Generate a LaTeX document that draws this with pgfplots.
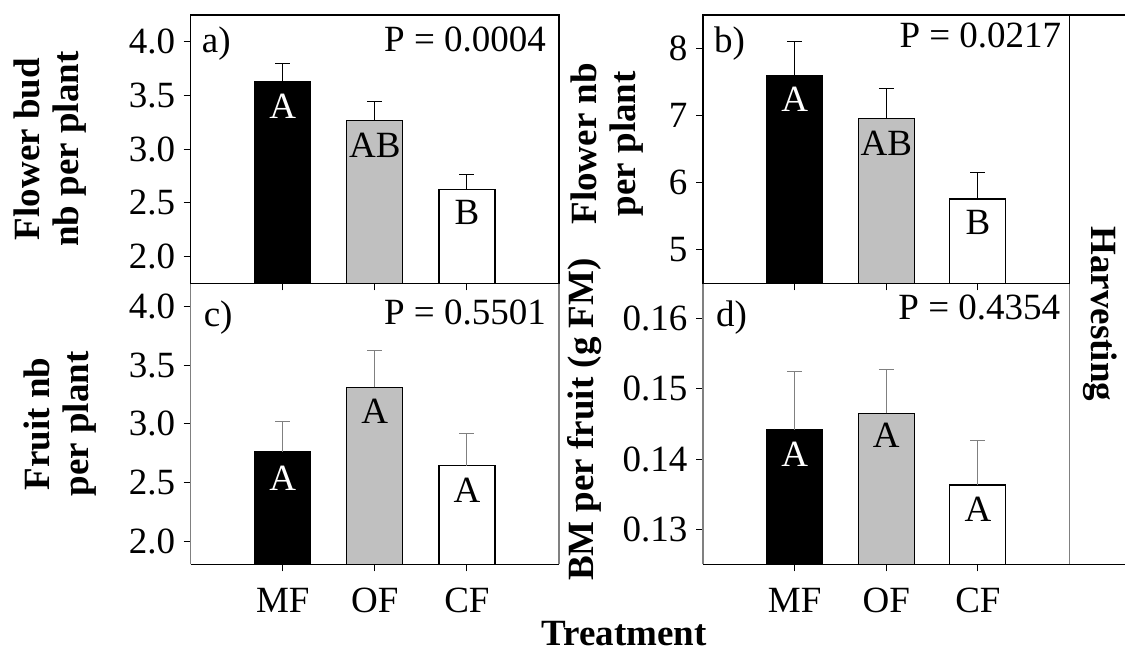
\documentclass[border=0pt]{standalone}
\usepackage{pgfplots}
\pgfplotsset{compat=1.18}
\usepackage{fontspec}
\setmainfont{Liberation Serif}
\newcommand\fs{\fontsize{37pt}{39pt}\selectfont}
\definecolor{barg}{RGB}{192,192,192}
\definecolor{lgray}{RGB}{128,128,128}

\pgfplotsset{
  panel/.style={
    scale only axis, anchor=south west,
    xmin=0, xmax=4, xtick={1,2,3},
    tick align=outside, xtick pos=bottom, ytick pos=left,
    major tick length=7pt,
    tick style={black, line width=1pt},
    axis line style={line width=1.2pt},
    tick label style={font=\fs},
    yticklabel style={xshift=-5pt},
    xticklabel style={yshift=-13pt},
    label style={font=\fs\bfseries},
    /pgf/number format/assume math mode=true,
    ylabel style={align=center, anchor=center},
  },
  bars/.style 2 args={ybar, bar width=56pt, bar shift=0pt, fill=#1, draw=black, line width=1.2pt,
    error bars/.cd, y dir=plus, y explicit,
    error bar style={line width=1pt, #2},
    error mark options={#2, mark size=7.5pt, line width=1pt, rotate=90}},
}

\begin{document}
\begin{tikzpicture}
\useasboundingbox (0pt,0pt) rectangle (1125pt,652pt);

% ---- panel c ----
\begin{axis}[panel, at={(190.7pt,87.5pt)}, width=368.3pt, height=281.2pt,
  ymin=1.8, ymax=4.2, ytick={2,2.5,3,3.5,4},
  yticklabel style={/pgf/number format/.cd, fixed, fixed zerofill, precision=1},
  xticklabels={MF,OF,CF},
  y axis line style={lgray},
  ylabel={Fruit nb\\per plant},
  ylabel style={at={(axis description cs:-0.355,0.5)}},
  xlabel={Treatment},
  xlabel style={at={(axis description cs:1.177,-0.245)}, anchor=center, inner sep=0pt},
  separate axis lines]
\addplot[bars={black}{lgray}] coordinates {(1,2.762) +- (0,0.256)};
\addplot[bars={barg}{lgray}] coordinates {(2,3.312) +- (0,0.312)};
\addplot[bars={white}{lgray}] coordinates {(3,2.642) +- (0,0.273)};
\node[font=\fs, text=white, anchor=north, inner sep=0pt, yshift=-14pt] at (axis cs:1,2.762) {A};
\node[font=\fs, anchor=north, inner sep=0pt, yshift=-12pt] at (axis cs:2,3.312) {A};
\node[font=\fs, anchor=north, inner sep=0pt, yshift=-12pt] at (axis cs:3,2.642) {A};
\node[font=\fs, anchor=north west, inner sep=0pt] at (rel axis cs:0.035,0.94) {c)};
\node[font=\fs, anchor=north east, inner sep=0pt] at (rel axis cs:0.965,0.94) {P = 0.5501};
\end{axis}

% ---- panel d ----
\begin{axis}[panel, at={(703pt,87.5pt)}, width=366.5pt, height=281.2pt,
  ymin=0.125, ymax=0.165, ytick={0.13,0.14,0.15,0.16},
  yticklabel style={/pgf/number format/.cd, fixed, fixed zerofill, precision=2},
  xticklabels={MF,OF,CF},
  y axis line style={lgray},
  ylabel={BM per fruit (g FM)},
  ylabel style={at={(axis description cs:-0.322,0.515)}},
  separate axis lines]
\addplot[bars={black}{lgray}] coordinates {(1,0.1442) +- (0,0.0082)};
\addplot[bars={barg}{lgray}] coordinates {(2,0.1465) +- (0,0.0063)};
\addplot[bars={white}{lgray}] coordinates {(3,0.1363) +- (0,0.0064)};
\node[font=\fs, text=white, anchor=north, inner sep=0pt, yshift=-12pt] at (axis cs:1,0.1442) {A};
\node[font=\fs, anchor=north, inner sep=0pt, yshift=-10pt] at (axis cs:2,0.1465) {A};
\node[font=\fs, anchor=north, inner sep=0pt, yshift=-12pt] at (axis cs:3,0.1363) {A};
\node[font=\fs, anchor=north west, inner sep=0pt] at (rel axis cs:0.035,0.94) {d)};
\node[font=\fs, anchor=north east, inner sep=0pt] at (rel axis cs:0.975,0.96) {P = 0.4354};
\end{axis}

% ---- panel a ----
\begin{axis}[panel, at={(190.7pt,368.7pt)}, width=368.3pt, height=268.3pt,
  ymin=1.75, ymax=4.25, ytick={2,2.5,3,3.5,4},
  yticklabel style={/pgf/number format/.cd, fixed, fixed zerofill, precision=1},
  xticklabels={,,},
  ylabel={Flower bud\\nb per plant},
  ylabel style={at={(axis description cs:-0.382,0.5)}}]
\addplot[bars={black}{black}] coordinates {(1,3.628) +- (0,0.172)};
\addplot[bars={barg}{black}] coordinates {(2,3.265) +- (0,0.175)};
\addplot[bars={white}{black}] coordinates {(3,2.627) +- (0,0.139)};
\node[font=\fs, text=white, anchor=north, inner sep=0pt, yshift=-12pt] at (axis cs:1,3.628) {A};
\node[font=\fs, anchor=north, inner sep=0pt, yshift=-12pt] at (axis cs:2,3.265) {AB};
\node[font=\fs, anchor=north, inner sep=0pt, yshift=-11pt] at (axis cs:3,2.627) {B};
\node[font=\fs, anchor=north west, inner sep=0pt] at (rel axis cs:0.03,0.955) {a)};
\node[font=\fs, anchor=north east, inner sep=0pt] at (rel axis cs:0.965,0.955) {P = 0.0004};
\end{axis}

% ---- panel b ----
\begin{axis}[panel, at={(703pt,368.7pt)}, width=366.5pt, height=268.3pt,
  ymin=4.5, ymax=8.5, ytick={5,6,7,8},
  xticklabels={,,},
  ylabel={Flower nb\\per plant},
  ylabel style={at={(axis description cs:-0.262,0.52)}}]
\addplot[bars={black}{black}] coordinates {(1,7.60) +- (0,0.51)};
\addplot[bars={barg}{black}] coordinates {(2,6.958) +- (0,0.442)};
\addplot[bars={white}{black}] coordinates {(3,5.758) +- (0,0.392)};
\node[font=\fs, text=white, anchor=north, inner sep=0pt, yshift=-12pt] at (axis cs:1,7.60) {A};
\node[font=\fs, anchor=north, inner sep=0pt, yshift=-12pt] at (axis cs:2,6.958) {AB};
\node[font=\fs, anchor=north, inner sep=0pt, yshift=-11pt] at (axis cs:3,5.758) {B};
\node[font=\fs, anchor=north west, inner sep=0pt] at (rel axis cs:0.03,0.955) {b)};
\node[font=\fs, anchor=north east, inner sep=0pt] at (rel axis cs:0.978,0.97) {P = 0.0217};
\end{axis}

% ---- harvesting strip ----
\draw[line width=1.2pt] (1069.5pt,637pt) -- (1125pt,637pt);
\draw[line width=1.2pt] (1069.5pt,87.5pt) -- (1125pt,87.5pt);
\node[font=\fs\bfseries, rotate=-90] at (1100pt,338pt) {Harvesting};
\end{tikzpicture}
\end{document}
